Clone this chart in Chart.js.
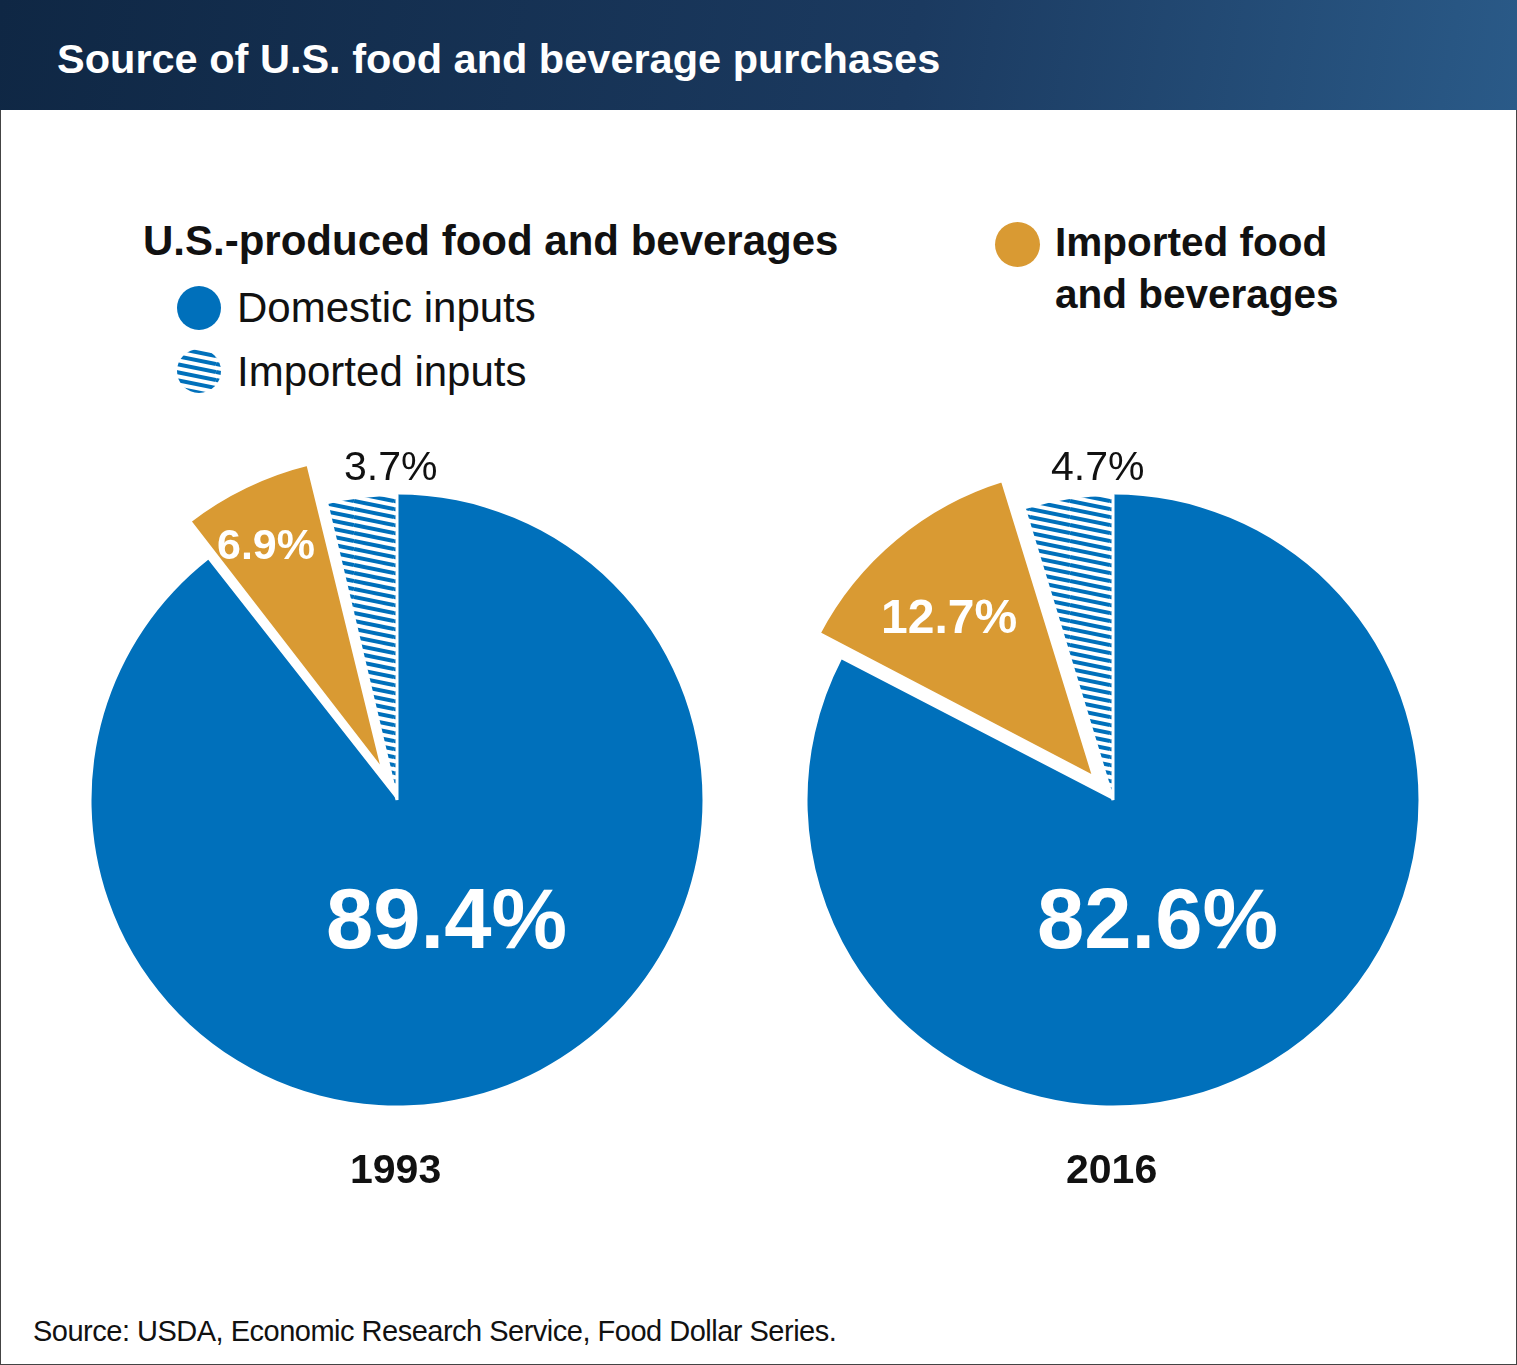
<!DOCTYPE html>
<html><head><meta charset="utf-8">
<script src="https://cdn.jsdelivr.net/npm/chart.js@4"></script>
<style>
body{margin:0;width:1517px;height:1365px;background:#fff;font-family:"Liberation Sans",Arial,sans-serif;position:relative;overflow:hidden}
#frame{position:absolute;left:0;top:0;width:1515px;height:1363px;border:1px solid #444}
#hdr{position:absolute;left:0;top:0;width:1517px;height:110px;background:linear-gradient(100deg,#0f2744 0%,#1b3a60 60%,#2a5a88 100%)}
.t{position:absolute;white-space:nowrap;color:#111}
canvas{position:absolute}
</style></head><body>
<div id="frame"></div>
<div id="hdr"></div>
<div class="t" style="left:57px;top:35px;font-size:41.5px;font-weight:bold;color:#fff">Source of U.S. food and beverage purchases</div>
<div class="t" style="left:143px;top:217px;font-size:42px;font-weight:bold">U.S.-produced food and beverages</div>
<div style="position:absolute;left:177px;top:286px;width:44px;height:44px;border-radius:50%;background:#0070bb"></div>
<div class="t" style="left:237px;top:284px;font-size:42px">Domestic inputs</div>
<canvas id="lg" width="46" height="46" style="left:176px;top:348px"></canvas>
<div class="t" style="left:237px;top:348px;font-size:42px">Imported inputs</div>
<div style="position:absolute;left:995px;top:222px;width:45px;height:45px;border-radius:50%;background:#d99a33"></div>
<div class="t" style="left:1055px;top:216px;font-size:40.5px;font-weight:bold;line-height:52px">Imported food<br>and beverages</div>
<canvas id="c1" width="726" height="726" style="left:34px;top:437px"></canvas>
<canvas id="c2" width="726" height="726" style="left:750px;top:437px"></canvas>
<div class="t" style="left:344px;top:443px;font-size:41px">3.7%</div>
<div class="t" style="left:1051px;top:443px;font-size:41px">4.7%</div>
<div class="t" style="left:217px;top:520px;font-size:43px;font-weight:bold;color:#fff">6.9%</div>
<div class="t" style="left:881px;top:589px;font-size:48px;font-weight:bold;color:#fff">12.7%</div>
<div class="t" style="left:326px;top:870px;font-size:85px;font-weight:bold;color:#fff">89.4%</div>
<div class="t" style="left:1037px;top:870px;font-size:85px;font-weight:bold;color:#fff">82.6%</div>
<div class="t" style="left:350px;top:1146px;font-size:41px;font-weight:bold">1993</div>
<div class="t" style="left:1066px;top:1146px;font-size:41px;font-weight:bold">2016</div>
<div class="t" style="left:33px;top:1315px;font-size:29px;letter-spacing:-0.5px">Source: USDA, Economic Research Service, Food Dollar Series.</div>
<script>
const categories=["Domestic inputs","Imported food and beverages","Imported inputs"];
const values1993=[89.4,6.9,3.7];
const values2016=[82.6,12.7,4.7];
const offsets1993=[0,110,0];
const offsets2016=[0,110,0];
function hatch(){
  const p=document.createElement('canvas');p.width=40;p.height=40;
  const g=p.getContext('2d');g.fillStyle='#fff';g.fillRect(0,0,40,40);
  g.strokeStyle='#0070bb';g.lineWidth=4;
  for(let y=-40;y<80;y+=8){g.beginPath();g.moveTo(0,y);g.lineTo(40,y+8);g.stroke();}
  return g.createPattern(p,'repeat');
}
const lg=document.getElementById('lg').getContext('2d');
lg.save();lg.beginPath();lg.arc(23,23,22,0,Math.PI*2);lg.clip();lg.fillStyle=hatch();lg.fillRect(0,0,46,46);lg.restore();
function mk(id,vals,offs){
  new Chart(document.getElementById(id),{type:'pie',
   data:{labels:categories,datasets:[{data:vals,offset:offs,
     backgroundColor:['#0070bb','#d99a33',hatch()],borderColor:'#fff',borderWidth:[0,5,3]}]},
   options:{responsive:false,animation:false,layout:{padding:0},
     plugins:{legend:{display:false},tooltip:{enabled:false}}}});
}
mk('c1',values1993,offsets1993);
mk('c2',values2016,offsets2016);
</script>
</body></html>
